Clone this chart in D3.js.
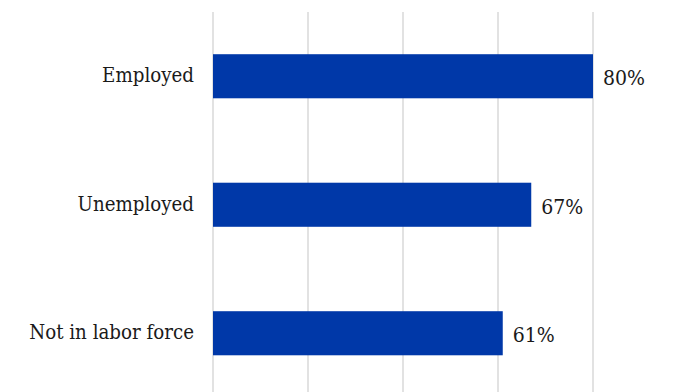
<!DOCTYPE html>
<html>
<head>
<meta charset="utf-8">
<script src="https://cdn.jsdelivr.net/npm/d3@7"></script>
<style>
  html, body { margin: 0; padding: 0; background: #fff; }
  svg { display: block; }
  text { font-family: "DejaVu Serif Condensed", serif; fill: #1a1a1a; }
</style>
</head>
<body>
<svg id="chart" width="678" height="392"></svg>
<script>
// Share of people by labor force status (percent)
const categories = ["Employed", "Unemployed", "Not in labor force"];
const values = [80, 67, 61];
const gridTicks = [0, 20, 40, 60, 80, 100];

const width = 678, height = 392;
const svg = d3.select("#chart");

const x = d3.scaleLinear().domain([0, 100]).range([213, 688]);
const y = d3.scaleBand()
  .domain(categories)
  .range([12, 397.5])
  .paddingInner(0.657)
  .paddingOuter(0.3285);

// vertical gridlines
svg.append("g")
  .selectAll("line")
  .data(gridTicks)
  .join("line")
  .attr("x1", d => x(d)).attr("x2", d => x(d))
  .attr("y1", 12).attr("y2", height)
  .attr("stroke", "#d9d9d9")
  .attr("stroke-width", 1.5);

// bars
svg.append("g")
  .selectAll("rect")
  .data(values)
  .join("rect")
  .attr("x", x(0))
  .attr("y", (d, i) => y(categories[i]))
  .attr("width", d => x(d) - x(0))
  .attr("height", y.bandwidth())
  .attr("fill", "#0038a8");

// category labels
svg.append("g")
  .selectAll("text")
  .data(categories)
  .join("text")
  .attr("x", 194)
  .attr("y", d => y(d) + y.bandwidth() / 2)
  .attr("dy", "0.3em")
  .attr("text-anchor", "end")
  .attr("font-size", 20.3)
  .text(d => d);

// value labels
svg.append("g")
  .selectAll("text")
  .data(values)
  .join("text")
  .attr("x", d => x(d) + 10)
  .attr("y", (d, i) => y(categories[i]) + y.bandwidth() / 2)
  .attr("dy", "0.42em")
  .attr("font-size", 21)
  .text(d => d + "%");
</script>
</body>
</html>
